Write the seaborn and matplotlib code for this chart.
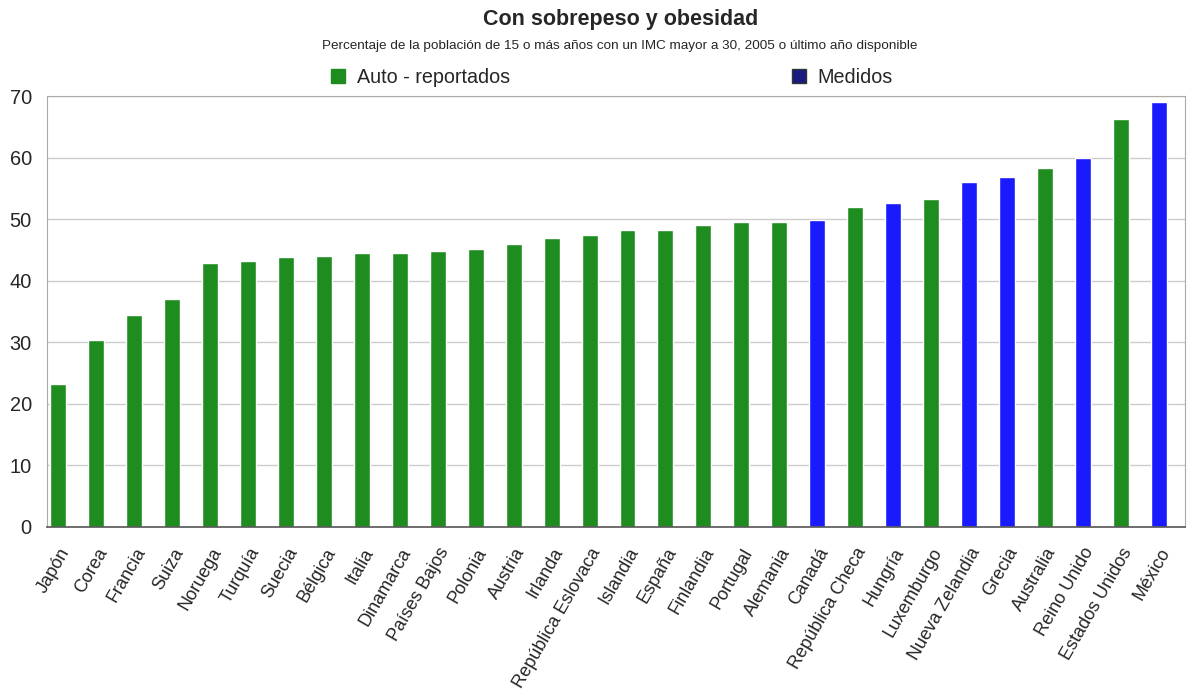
import matplotlib
matplotlib.use("Agg")
import matplotlib.pyplot as plt
import seaborn as sns
import pandas as pd
import numpy as np
from matplotlib.patches import Patch

paises = ["Japón", "Corea", "Francia", "Suiza", "Noruega", "Turquía", "Suecia",
          "Bélgica", "Italia", "Dinamarca", "Países Bajos", "Polonia", "Austria",
          "Irlanda", "República Eslovaca", "Islandia", "España", "Finlandia",
          "Portugal", "Alemania", "Canadá", "República Checa", "Hungría",
          "Luxemburgo", "Nueva Zelandia", "Grecia", "Australia", "Reino Unido",
          "Estados Unidos", "México"]
valores = [23.2, 30.4, 34.5, 37.0, 42.9, 43.2, 43.9, 44.0, 44.5, 44.5, 44.8,
           45.1, 46.0, 46.9, 47.5, 48.2, 48.3, 49.1, 49.5, 49.5, 49.8, 51.9,
           52.7, 53.2, 56.1, 56.9, 58.3, 59.9, 66.2, 69.1]
tipo = ["Auto - reportados"] * 20 + ["Medidos", "Auto - reportados", "Medidos",
        "Auto - reportados", "Medidos", "Medidos", "Auto - reportados",
        "Medidos", "Auto - reportados", "Medidos"]

df = pd.DataFrame({"pais": paises, "valor": valores, "tipo": tipo})

verde = "#1e8c1e"
azul = "#1a1aff"
azul_leyenda = "#1a1a80"

sns.set_style("white")
plt.rcParams['font.family'] = ['Liberation Sans', 'DejaVu Sans']

fig = plt.figure(figsize=(11.88, 6.96), dpi=100)
ax = fig.add_axes([0.0396, 0.243, 0.958, 0.619])

sns.barplot(data=df, x="pais", y="valor", hue="tipo", dodge=False,
            palette={"Auto - reportados": verde, "Medidos": azul},
            width=0.42, saturation=1, legend=False, ax=ax)

n = len(paises)
ax.set_xlim(-0.3, n - 0.3)
ax.set_ylim(0, 70)
ax.set_yticks(range(0, 71, 10))
ax.yaxis.grid(True, color="#cccccc", linewidth=1)
ax.set_axisbelow(True)
ax.set_xlabel("")
ax.set_ylabel("")

ax.set_xticks(range(n))
ax.set_xticklabels(paises, rotation=60, ha="right", rotation_mode="anchor",
                   fontsize=13)
ax.tick_params(axis="x", length=0, pad=13)
ax.set_xticks(np.arange(n - 1) + 0.7, minor=True)
ax.tick_params(axis="x", which="minor", length=4, color="#888888", direction="in")
ax.tick_params(axis="y", length=0, labelsize=14.4, pad=11)

for s in ["left", "top", "right"]:
    ax.spines[s].set_color("#aaaaaa")
ax.spines["bottom"].set_color("#555555")
ax.spines["bottom"].set_linewidth(1.2)

fig.text(0.522, 0.972, "Con sobrepeso y obesidad", ha="center", va="center",
         fontsize=15.5, fontweight="bold")
fig.text(0.522, 0.934, "Percentaje de la población de 15 o más años con un IMC mayor a 30, 2005 o último año disponible",
         ha="center", va="center", fontsize=9.7)

handles = [Patch(facecolor=verde, edgecolor=verde, label="Auto - reportados"),
           Patch(facecolor=azul_leyenda, edgecolor="#333333", label="Medidos")]
fig.legend(handles=handles, loc="center", bbox_to_anchor=(0.515, 0.889), ncol=2,
           frameon=False, fontsize=14.2, columnspacing=14.3, handlelength=0.7,
           handleheight=0.7, handletextpad=0.6)

fig.savefig("out.png", dpi=100, facecolor="white")
